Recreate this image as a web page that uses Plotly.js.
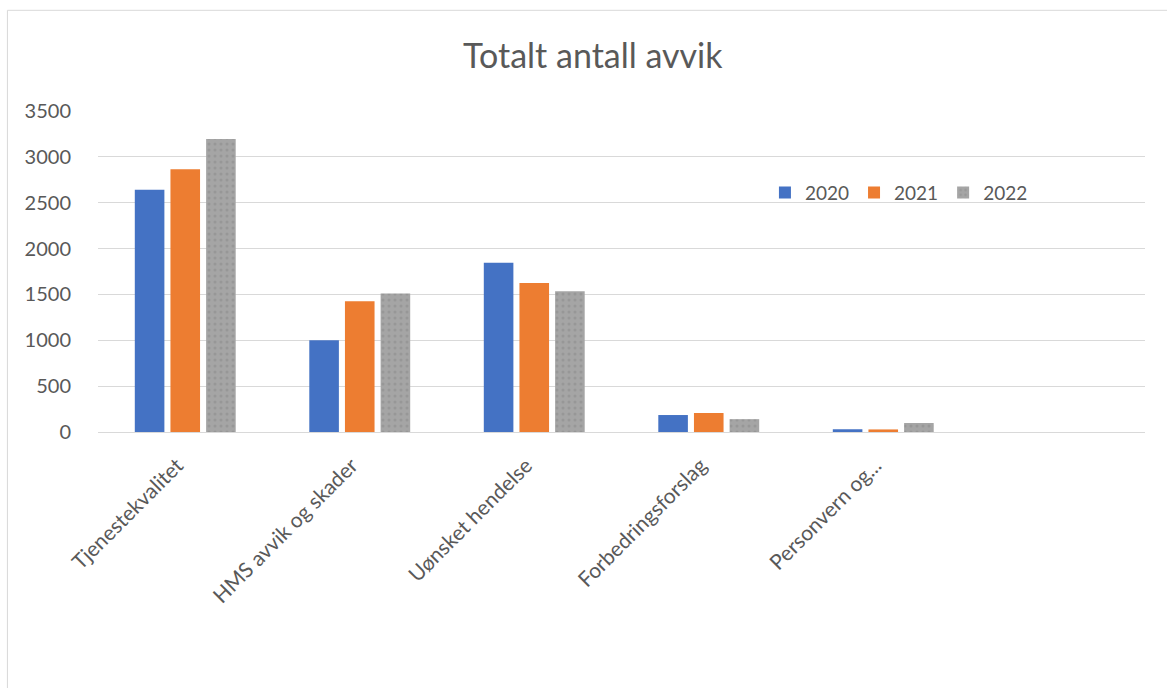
<!DOCTYPE html>
<html>
<head>
<meta charset="utf-8">
<script src="https://cdn.plot.ly/plotly-3.0.1.min.js"></script>
<style>
html, body { margin: 0; padding: 0; background: #ffffff; }
#chart { width: 1167px; height: 688px; }
</style>
</head>
<body>
<div id="chart"></div>
<script>
const categories = ["Tjenestekvalitet", "HMS avvik og skader", "Uønsket hendelse", "Forbedringsforslag", "Personvern og..."];
const years = ["2020", "2021", "2022"];
const values2020 = [2640, 1000, 1845, 185, 30];
const values2021 = [2865, 1425, 1625, 207, 28];
const values2022 = [3195, 1510, 1535, 140, 98];
const colors = ["#4472C4", "#ED7D31", "#A5A5A5"];

const seriesValues = [values2020, values2021, values2022];
const traces = years.map((yr, i) => {
  const marker = { color: colors[i] };
  if (i === 2) {
    marker.pattern = { shape: ".", fgcolor: "#979797", bgcolor: colors[i], size: 6, solidity: 0.2 };
  }
  return {
    type: "bar",
    name: yr,
    x: categories,
    y: seriesValues[i],
    marker: marker,
    hoverinfo: "x+y+name"
  };
});

const fontFam = "Lato, 'Open Sans', sans-serif";
const layout = {
  width: 1167,
  height: 688,
  paper_bgcolor: "#ffffff",
  plot_bgcolor: "#ffffff",
  font: { family: fontFam, color: "#595959" },
  title: {
    text: "Totalt antall avvik",
    font: { family: fontFam, size: 34, color: "#595959" },
    x: 0.508, xanchor: "center",
    y: 0.918, yanchor: "middle", xref: "container", yref: "container"
  },
  margin: { l: 98, r: 22, t: 111, b: 256 },
  barmode: "group",
  bargap: 0.387,
  bargroupgap: 0.17,
  showlegend: true,
  legend: {
    orientation: "h",
    x: 0.637, xanchor: "left",
    y: 0.805, yanchor: "top",
    font: { family: fontFam, size: 19, color: "#595959" },
    bgcolor: "rgba(0,0,0,0)",
    itemwidth: 30,
    traceorder: "normal"
  },
  xaxis: {
    type: "category",
    range: [-0.5, 5.5],
    tickangle: -45,
    tickfont: { family: fontFam, size: 21, color: "#595959" },
    ticklabelshift: -8,
    ticklabelstandoff: 12,
    showgrid: false,
    showline: true,
    linecolor: "#d9d9d9",
    linewidth: 1,
    ticks: "",
    automargin: false
  },
  yaxis: {
    range: [0, 3500],
    dtick: 500,
    tick0: 0,
    tickfont: { family: fontFam, size: 20, color: "#595959" },
    showgrid: true,
    gridcolor: "#d9d9d9",
    gridwidth: 1,
    zeroline: true,
    zerolinecolor: "#d9d9d9",
    zerolinewidth: 1,
    ticks: "outside",
    ticklen: 22,
    tickcolor: "rgba(0,0,0,0)",
    showline: false,
    automargin: false
  },
  shapes: [{
    type: "rect",
    xref: "paper", yref: "paper",
    x0: -0.0865, x1: 1.05,
    y0: -0.85, y1: 1.3137,
    line: { color: "#d9d9d9", width: 1 },
    fillcolor: "rgba(0,0,0,0)",
    layer: "below"
  }]
};

Plotly.newPlot("chart", traces, layout, { displayModeBar: false, responsive: false });
</script>
</body>
</html>
